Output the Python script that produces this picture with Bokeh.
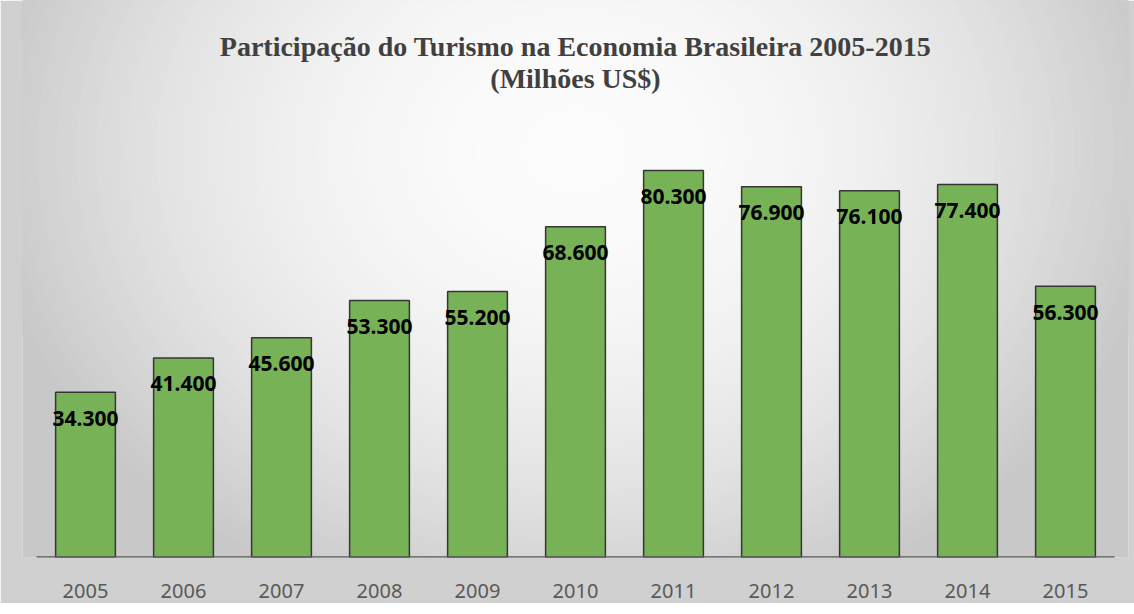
from bokeh.plotting import figure
from bokeh.models import FactorRange, Range1d, Label
from bokeh.core.properties import value
from bokeh.embed import file_html
from bokeh.resources import INLINE

# ---- data ----
years = ["2005", "2006", "2007", "2008", "2009", "2010",
         "2011", "2012", "2013", "2014", "2015"]
values = [34300, 41400, 45600, 53300, 55200, 68600,
          80300, 76900, 76100, 77400, 56300]
labels = [f"{v:,}".replace(",", ".") for v in values]
title_line1 = "Participação do Turismo na Economia Brasileira 2005-2015"
title_line2 = "(Milhões US$)"

# ---- figure ----
p = figure(
    width=1134, height=603,
    x_range=FactorRange(*years, range_padding=14 / 98, range_padding_units="absolute"),
    y_range=Range1d(0, 115560),
    y_axis_location=None,
    output_backend="svg", toolbar_location=None,
    min_border_left=22, min_border_right=6, min_border_top=0, min_border_bottom=46,
)
p.background_fill_color = "#c8c8c8"
p.border_fill_color = "#d0d0d0"
p.outline_line_color = None
p.grid.visible = False

# ---- radial gradient background (decoration) ----
n = 60
rhos = [1.075 * (n - i) / n for i in range(n)]
cols = []
for r in rhos:
    b = max(200, min(252, round(252 - 45 * r * r)))
    cols.append(f"#{b:02x}{b:02x}{b:02x}")
p.ellipse(x=["2010"] * n, y=[84400] * n,
          width=[2 * 557 * r for r in rhos], height=[2 * 452 * r for r in rhos],
          width_units="screen", height_units="screen",
          fill_color=cols, line_color=None)

# ---- bars ----
p.vbar(x=years, top=values, width=0.61, bottom=0,
       fill_color="#78b256", line_color="#363636", line_width=1.5)

# axis line (only under the categories)
p.segment(x0=[0], x1=[len(years)], y0=[0], y1=[0], line_color="#585858", line_width=2.5)

# ---- data labels ----
p.text(x=years, y=values, text=labels, y_offset=26,
       text_align="center", text_baseline="middle",
       text_font=value("Noto Sans"), text_font_style="bold",
       text_font_size="21px", text_color="#000000")

# ---- x axis ----
ax = p.xaxis[0]
ax.axis_line_color = None
ax.major_tick_line_color = None
ax.minor_tick_line_color = None
ax.major_label_standoff = 20
ax.major_label_text_font = "Noto Sans"
ax.major_label_text_font_size = "20px"
ax.major_label_text_color = "#595959"

# ---- title (inside the frame so it sits on the light gradient) ----
for txt, sy in [(title_line1, 511), (title_line2, 479)]:
    p.add_layout(Label(x=553, y=sy, x_units="screen", y_units="screen",
                       text=txt, text_align="center", text_baseline="middle",
                       text_font="Liberation Serif", text_font_style="bold",
                       text_font_size="28px", text_color="#404040"))

open("out.html", "w").write(file_html(p, INLINE))
